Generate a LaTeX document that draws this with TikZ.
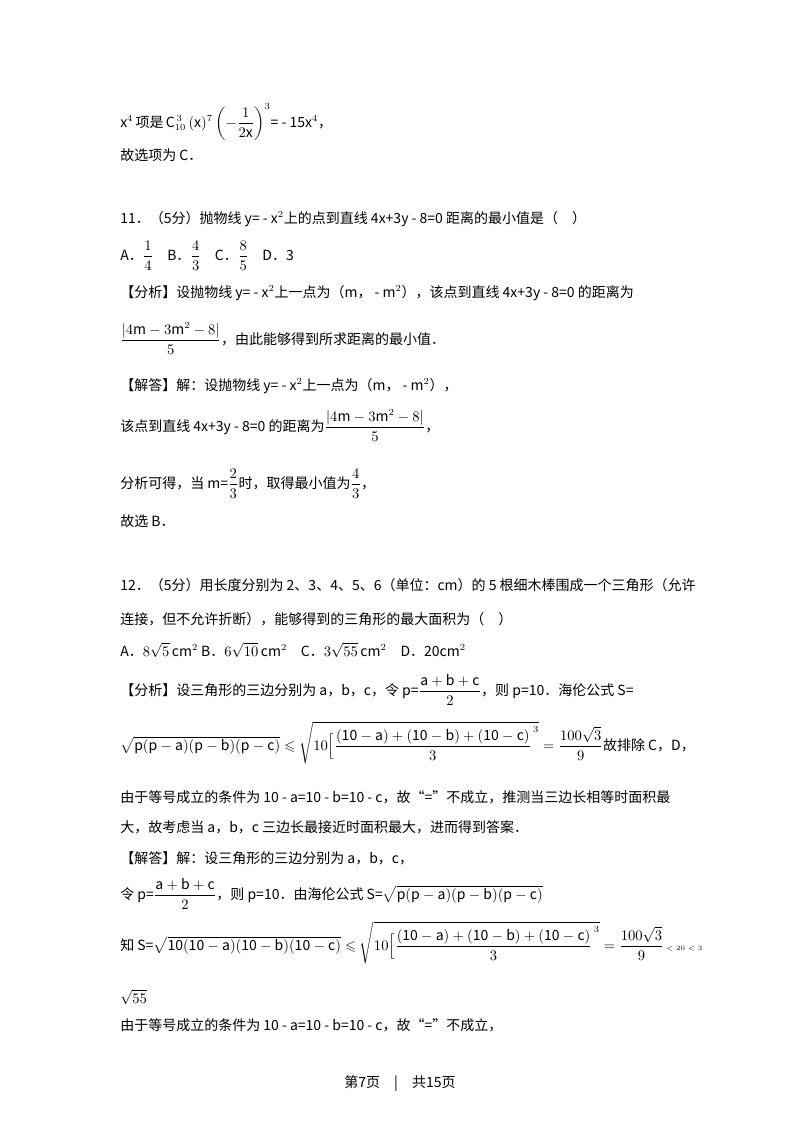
\documentclass[tikz,border=0pt]{standalone}
\usepackage{amsmath,amssymb}
\usepackage{fontspec}
\setmainfont{Noto Sans CJK SC}
\begin{document}
\begin{tikzpicture}[x=0.75pt,y=-0.75pt,
  ln/.style={anchor=base west,inner sep=0pt,font=\fontsize{10.5}{12}\selectfont}]
\useasboundingbox[fill=white] (0,0) rectangle (800,1132);
\node[ln] (l1) at (120,127) {x$^4$\,项是\,$\mathrm{C}^{\,3}_{10}\,(\mathrm{x})^7\left(-\dfrac{1}{2\mathrm{x}}\right)^3$= - 15x$^4$，};
\node[ln] (l2) at (120,160) {故选项为 C．};
\node[ln] (l3) at (120,223) {11．（5分）抛物线 y= - x$^2$上的点到直线 4x+3y - 8=0 距离的最小值是（\quad ）};
\node[ln] (l4) at (120,260) {A．$\dfrac14$\quad B．$\dfrac43$\quad C．$\dfrac85$\quad D．3};
\node[ln] (l5) at (120,297) {【分析】设抛物线 y= - x$^2$上一点为（m， - m$^2$），该点到直线 4x+3y - 8=0 的距离为};
\node[ln] (l6) at (120,344) {$\dfrac{|4\mathrm{m}-3\mathrm{m}^2-8|}{5}$，由此能够得到所求距离的最小值．};
\node[ln] (l7) at (120,390) {【解答】解：设抛物线 y= - x$^2$上一点为（m， - m$^2$），};
\node[ln] (l8) at (120,431) {该点到直线 4x+3y - 8=0 的距离为$\dfrac{|4\mathrm{m}-3\mathrm{m}^2-8|}{5}$，};
\node[ln] (l9) at (120,488) {分析可得，当 m=$\dfrac23$时，取得最小值为$\dfrac43$，};
\node[ln] (l10) at (120,526) {故选 B．};
\node[ln] (l11) at (120,590) {12．（5分）用长度分别为 2、3、4、5、6（单位：cm）的 5 根细木棒围成一个三角形（允许};
\node[ln] (l12) at (120,624) {连接，但不允许折断），能够得到的三角形的最大面积为（\quad ）};
\node[ln] (l13) at (120,656) {A．$8\sqrt5\,\mathrm{cm}^2$ B．$6\sqrt{10}\,\mathrm{cm}^2$\quad C．$3\sqrt{55}\,\mathrm{cm}^2$\quad D．20cm$^2$};
\node[ln] (l14) at (120,695) {【分析】设三角形的三边分别为 a，b，c，令 p=$\dfrac{\mathrm{a+b+c}}{2}$，则 p=10．海伦公式 S=};
\node[ln] (l15) at (120,750) {$\sqrt{\mathrm{p(p-a)(p-b)(p-c)}}\leqslant\sqrt{10\Big[\dfrac{\mathrm{(10-a)+(10-b)+(10-c)}}{3}^{\,3}}=\dfrac{100\sqrt3}{9}$故排除 C，D，};
\node[ln] (l16) at (120,802) {由于等号成立的条件为 10 - a=10 - b=10 - c，故“=”不成立，推测当三边长相等时面积最};
\node[ln] (l17) at (120,832) {大，故考虑当 a，b，c 三边长最接近时面积最大，进而得到答案．};
\node[ln] (l18) at (120,863) {【解答】解：设三角形的三边分别为 a，b，c，};
\node[ln] (l19) at (120,899) {令 p=$\dfrac{\mathrm{a+b+c}}{2}$，则 p=10．由海伦公式 S=$\sqrt{\mathrm{p(p-a)(p-b)(p-c)}}$};
\node[ln] (l20) at (120,950) {知 S=$\sqrt{\mathrm{10(10-a)(10-b)(10-c)}}\leqslant\sqrt{10\Big[\dfrac{\mathrm{(10-a)+(10-b)+(10-c)}}{3}^{\,3}}=\dfrac{100\sqrt3}{9}$\,{\tiny$<20<3$}};
\node[ln] (l21) at (120,1003) {$\sqrt{55}$};
\node[ln] (l22) at (120,1030) {由于等号成立的条件为 10 - a=10 - b=10 - c，故“=”不成立，};
\node[anchor=base,inner sep=0pt,font=\fontsize{10.5}{12}\selectfont] (ft) at (400,1087) {第7页\quad|\quad 共15页};
\end{tikzpicture}
\end{document}
